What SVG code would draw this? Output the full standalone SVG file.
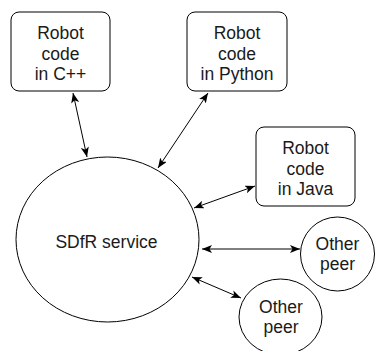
<svg xmlns="http://www.w3.org/2000/svg" width="375" height="351" viewBox="0 0 375 351">
<style>
.shape{fill:#fff;stroke:#000;stroke-width:1}
.lbl{font-family:"Liberation Sans",Arial,Helvetica,sans-serif;font-size:17.5px;fill:#1a1a1a;text-anchor:middle}
.conn{stroke:#000;stroke-width:1;fill:none;marker-start:url(#ah);marker-end:url(#ah)}
</style>
<defs>
<marker id="ah" viewBox="0 0 10 8" refX="10" refY="4" markerWidth="10" markerHeight="8" markerUnits="userSpaceOnUse" orient="auto-start-reverse">
<path d="M0,0 L10,4 L0,8 L2.5,4 z" fill="#000"/>
</marker>
</defs>
<rect width="375" height="351" fill="#fff"/>
<g id="connectors">
<line class="conn" x1="73" y1="93" x2="87" y2="157"/>
<line class="conn" x1="208" y1="93" x2="158" y2="168"/>
<line class="conn" x1="255" y1="186" x2="194" y2="208"/>
<line class="conn" x1="202" y1="249" x2="300" y2="249"/>
<line class="conn" x1="192" y1="277" x2="241" y2="298"/>
</g>
<g id="node-cpp">
<rect class="shape" x="11" y="12" width="99" height="79" rx="8"/>
<text class="lbl" x="60.5" y="39">Robot</text>
<text class="lbl" x="60.5" y="59.5">code</text>
<text class="lbl" x="60.5" y="80">in C++</text>
</g>
<g id="node-python">
<rect class="shape" x="187" y="12" width="100" height="79" rx="8"/>
<text class="lbl" x="237" y="39">Robot</text>
<text class="lbl" x="237" y="59.5">code</text>
<text class="lbl" x="237" y="80">in Python</text>
</g>
<g id="node-java">
<rect class="shape" x="256" y="127" width="99" height="79" rx="8"/>
<text class="lbl" x="305.5" y="154">Robot</text>
<text class="lbl" x="305.5" y="174.5">code</text>
<text class="lbl" x="305.5" y="195">in Java</text>
</g>
<g id="node-sdfr">
<ellipse class="shape" cx="107.5" cy="239.5" rx="91.5" ry="82.5"/>
<text class="lbl" x="106.5" y="248">SDfR service</text>
</g>
<g id="node-peer1">
<ellipse class="shape" cx="337.5" cy="254" rx="37" ry="37"/>
<text class="lbl" x="337.5" y="250">Other</text>
<text class="lbl" x="337.5" y="270">peer</text>
</g>
<g id="node-peer2">
<ellipse class="shape" cx="280.5" cy="317" rx="41.5" ry="38"/>
<text class="lbl" x="281" y="313">Other</text>
<text class="lbl" x="281" y="333">peer</text>
</g>
</svg>
